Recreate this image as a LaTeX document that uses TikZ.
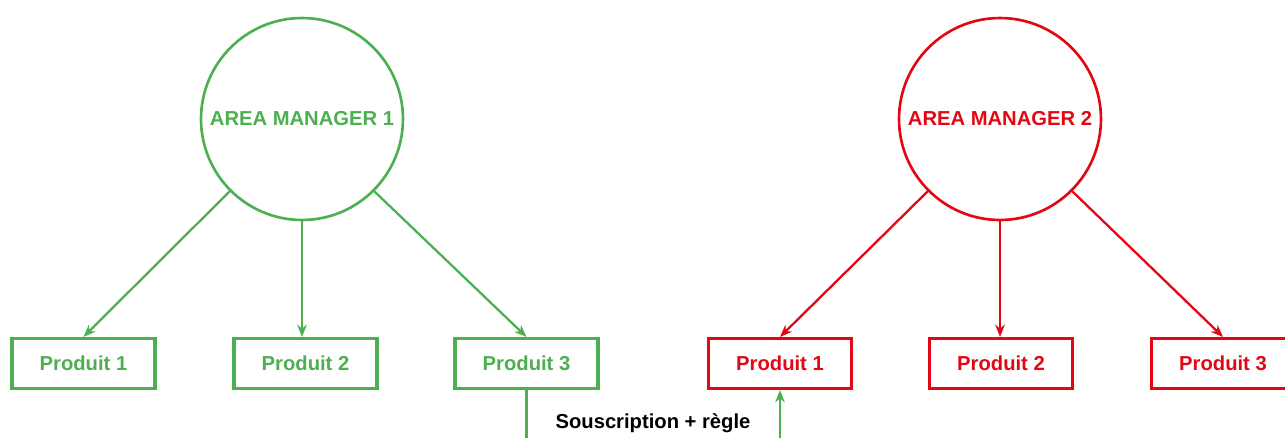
\documentclass[tikz,border=0pt]{standalone}
\usepackage{fontspec}
\setmainfont{Liberation Sans}
\usetikzlibrary{arrows.meta}
\definecolor{amgreen}{HTML}{4CAF50}
\definecolor{amred}{HTML}{E30613}

\begin{document}
\begin{tikzpicture}[x=0.02cm, y=-0.02cm, >={Stealth[length=7pt, width=5.5pt]},
    font=\fontsize{11.5}{13}\selectfont\bfseries,
    manager/.style={circle, draw, line width=1.5pt, minimum size=4.04cm, inner sep=0pt},
    produit/.style={rectangle, draw, line width=1.8pt, minimum width=2.86cm, minimum height=1cm},
    link/.style={->, line width=1.3pt}]
    \clip (0,0) rectangle (1285,437);
    \node[manager, amgreen] (am1) at (302,119) {AREA MANAGER 1};
    \node[manager, amred] (am2) at (1000,119) {AREA MANAGER 2};
    \foreach \i/\x in {1/83.5, 2/305.5, 3/526.5}
        \node[produit, amgreen] (g\i) at (\x,363.5) {Produit \i};
    \foreach \i/\x in {1/780, 2/1001, 3/1223}
        \node[produit, amred] (r\i) at (\x,363.5) {Produit \i};
    \draw[link, amgreen] (am1.-135) -- (g1.north);
    \draw[link, amgreen] (am1.south) -- (am1.south |- g2.north);
    \draw[link, amgreen] (am1.-45) -- (g3.north);
    \draw[link, amred] (am2.-135) -- (r1.north);
    \draw[link, amred] (am2.south) -- (am2.south |- r2.north);
    \draw[link, amred] (am2.-45) -- (r3.north);
    % souscription vers l'autre manager
    \draw[link, amgreen] (g3.south) -- ++(0,80) -| (r1.south);
    \node (sub) at (653,423) {Souscription + règle};
\end{tikzpicture}
\end{document}
